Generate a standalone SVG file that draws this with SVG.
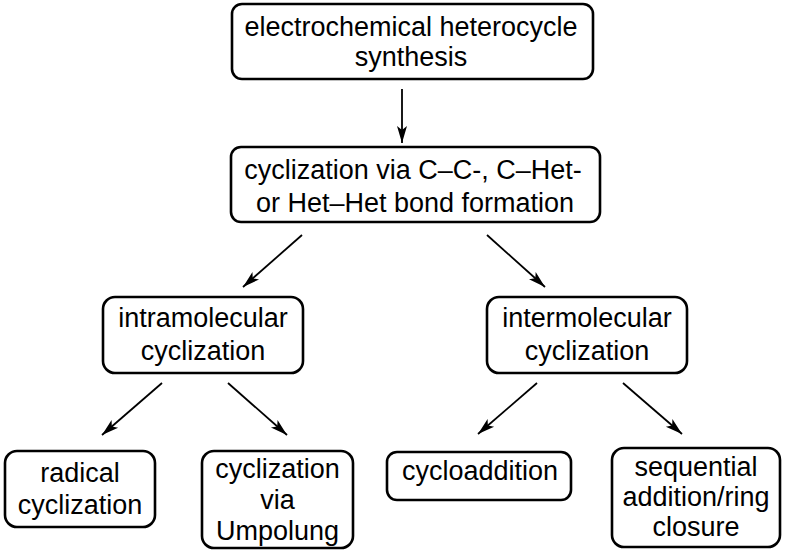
<svg xmlns="http://www.w3.org/2000/svg" width="786" height="554" viewBox="0 0 786 554">
<style>
.box{fill:#fff;stroke:#000;stroke-width:2.6}
.t{font-family:"Liberation Sans",Arial,sans-serif;font-size:27px;fill:#000;text-anchor:middle}
.c{stroke:#000;stroke-width:1.8;fill:none;marker-end:url(#ah)}
</style>
<defs>
<marker id="ah" markerUnits="userSpaceOnUse" viewBox="-18 -6 19 12" refX="0" refY="0" markerWidth="19" markerHeight="12" orient="auto">
<path d="M0,0 L-17,-5 L-13,0 L-17,5 Z" fill="#000"/>
</marker>
</defs>
<rect width="786" height="554" fill="#fff"/>
<g id="connectors">
<line class="c" x1="402" y1="89" x2="402" y2="143"/>
<line class="c" x1="302" y1="235" x2="243" y2="287"/>
<line class="c" x1="487" y1="235" x2="545" y2="287"/>
<line class="c" x1="162" y1="383" x2="102" y2="435"/>
<line class="c" x1="228" y1="383" x2="287" y2="435"/>
<line class="c" x1="537" y1="383" x2="478" y2="434"/>
<line class="c" x1="623" y1="383" x2="682" y2="434"/>
</g>
<g id="n-root">
<rect class="box" x="232" y="4" width="361" height="75" rx="10"/>
<text class="t" x="411" y="36">electrochemical heterocycle</text>
<text class="t" x="411" y="66">synthesis</text>
</g>
<g id="n-bond">
<rect class="box" x="231" y="147" width="369" height="75" rx="10"/>
<text class="t" x="413" y="179">cyclization via C–C-, C–Het-</text>
<text class="t" x="415" y="212">or Het–Het bond formation</text>
</g>
<g id="n-intra">
<rect class="box" x="103" y="297" width="200" height="76" rx="12"/>
<text class="t" x="203" y="327">intramolecular</text>
<text class="t" x="203" y="360">cyclization</text>
</g>
<g id="n-inter">
<rect class="box" x="487" y="297" width="200" height="76" rx="12"/>
<text class="t" x="587" y="327">intermolecular</text>
<text class="t" x="587" y="360">cyclization</text>
</g>
<g id="n-radical">
<rect class="box" x="5" y="451" width="150" height="76" rx="12"/>
<text class="t" x="80" y="482">radical</text>
<text class="t" x="80" y="514">cyclization</text>
</g>
<g id="n-umpolung">
<rect class="box" x="202" y="451" width="151" height="97" rx="12"/>
<text class="t" x="277.5" y="478">cyclization</text>
<text class="t" x="277.5" y="509">via</text>
<text class="t" x="277.5" y="540">Umpolung</text>
</g>
<g id="n-cycloaddition">
<rect class="box" x="387" y="452" width="184" height="48" rx="10"/>
<text class="t" x="480" y="480">cycloaddition</text>
</g>
<g id="n-sequential">
<rect class="box" x="612" y="448" width="168" height="99" rx="12"/>
<text class="t" x="696" y="476">sequential</text>
<text class="t" x="696" y="506">addition/ring</text>
<text class="t" x="696" y="536">closure</text>
</g>
</svg>
